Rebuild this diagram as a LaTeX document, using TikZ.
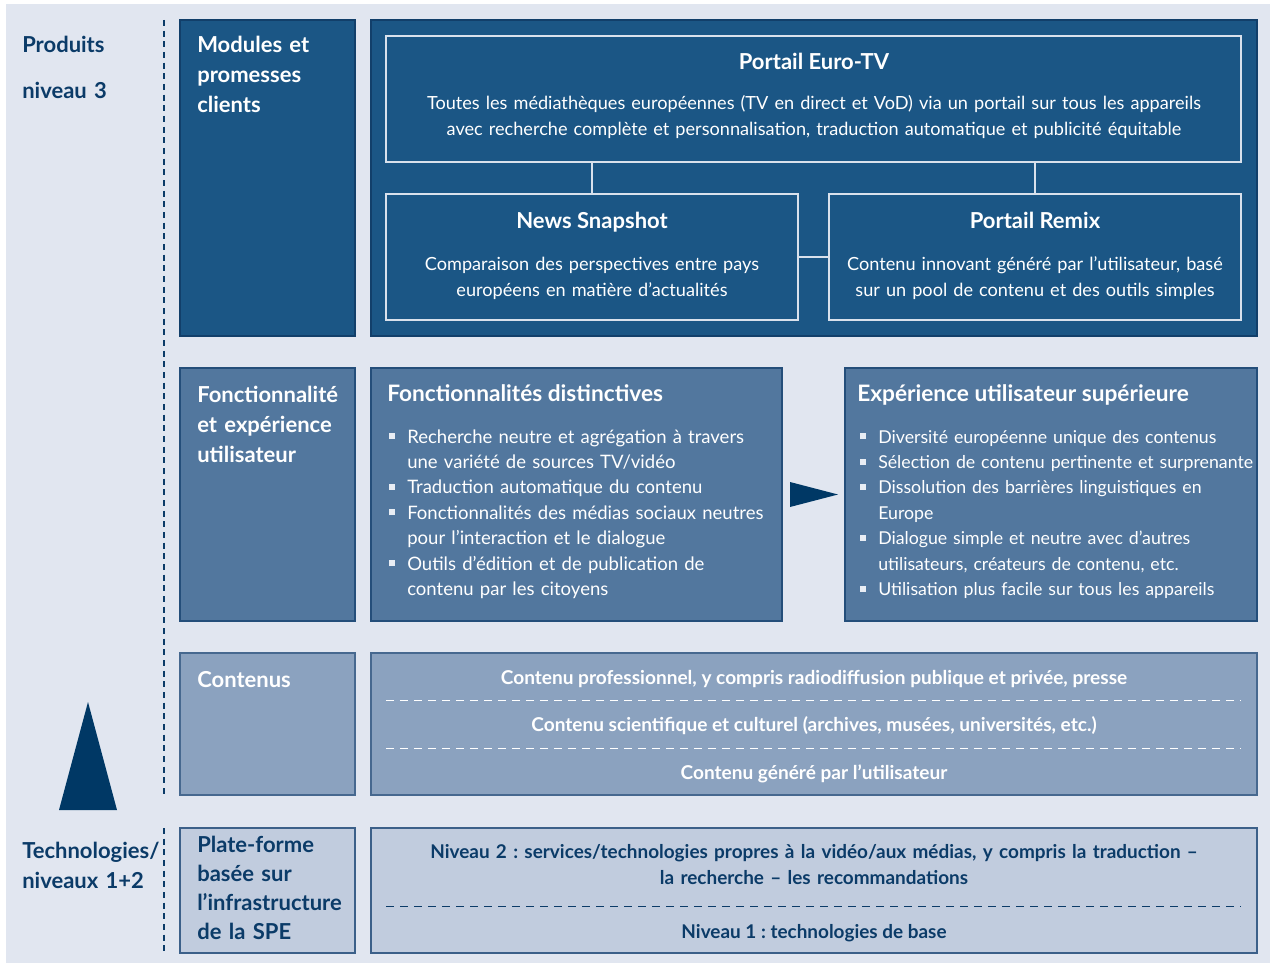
\documentclass[tikz,border=0pt]{standalone}
\usepackage{fontspec}
\setmainfont{Lato}
\usetikzlibrary{fit}
\frenchspacing
\definecolor{bgc}{HTML}{E1E6F0}
\definecolor{c1}{HTML}{1B5685}
\definecolor{c2}{HTML}{52779E}
\definecolor{c3}{HTML}{8BA2BF}
\definecolor{c4}{HTML}{C1CCDE}
\definecolor{navy}{HTML}{0B3B68}
\definecolor{tric}{HTML}{003865}
\definecolor{b1}{HTML}{123F6A}
\definecolor{b2}{HTML}{244E7A}
\definecolor{b3}{HTML}{46688F}
\definecolor{b4}{HTML}{3C6089}
\definecolor{inl}{HTML}{D9E1EC}
\definecolor{bulc}{HTML}{E8EDF4}
\newcommand{\bitem}[1]{\frenchspacing\hyphenpenalty=10000 \hangindent=13.5pt\hangafter=1\noindent\makebox[13.5pt][l]{\raisebox{0.22em}{\color{bulc}\rule{4.5pt}{4.5pt}}}#1\par}
\begin{document}
\begin{tikzpicture}[x=0.75pt,y=-0.75pt,
  boxA/.style={fill=c1,draw=b1,line width=0.9pt,inner sep=0pt},
  boxB/.style={fill=c2,draw=b2,line width=0.9pt,inner sep=0pt},
  boxC/.style={fill=c3,draw=b3,line width=0.9pt,inner sep=0pt},
  boxD/.style={fill=c4,draw=b4,line width=0.9pt,inner sep=0pt},
  inbox/.style={draw=inl,line width=0.8pt,inner sep=0pt},
  conn/.style={draw=inl,line width=0.8pt},
  sepw/.style={draw=white,line width=0.7pt,dash pattern=on 6pt off 4.5pt},
  sepn/.style={draw=navy,line width=0.7pt,dash pattern=on 6pt off 4.5pt},
  lbl/.style={inner sep=0pt,text=navy,font=\fontsize{16.5}{22.5}\selectfont\bfseries,align=left,anchor=base west},
  head/.style={inner sep=0pt,text=white,font=\fontsize{16.5}{22.5}\selectfont\bfseries,align=left,anchor=base west},
  ttl/.style={inner sep=0pt,text=white,font=\fontsize{16.5}{20}\selectfont\bfseries,anchor=base},
  desc/.style={inner sep=0pt,text=white,font=\fontsize{13.6}{19.5}\selectfont,align=center,anchor=base},
  sub/.style={inner sep=0pt,text=white,font=\fontsize{17}{20}\selectfont\bfseries,anchor=base west},
  blist/.style={inner sep=0pt,text=white,font=\fontsize{13.9}{19.1}\selectfont,align=left,anchor=base west,text width=315pt},
  cline/.style={inner sep=0pt,text=white,font=\fontsize{14.3}{19.5}\selectfont\bfseries,anchor=base},
  nline/.style={inner sep=0pt,text=navy,font=\fontsize{14.2}{19.5}\selectfont\bfseries,align=center,anchor=base}
]
\useasboundingbox (0,0) rectangle (1270,963);
\fill[white] (0,0) rectangle (1270,963);
\fill[bgc] (6,4) rectangle (1270,963);

% dashed divider
\draw[navy,line width=0.8pt,dash pattern=on 4.5pt off 3.5pt] (164,20) -- (164,795);
\draw[navy,line width=0.8pt,dash pattern=on 4.5pt off 3.5pt] (164,828) -- (164,953);

% left labels
\node[lbl,text width=100pt] (prod) at (22,53) {Produits\\[11.5pt]niveau 3};
\node[lbl,text width=120pt] (tech) at (22,858) {Technologies/\\niveaux 1+2};
\fill[tric] (88,702) -- (117,810) -- (59,810) -- cycle;

% row 1
\node[boxA,fit={(180,20)(355,336)}] (mod) {};
\node[head,text width=120pt] (modt) at (197,53) {Modules et\\promesses\\clients};
\node[boxA,fit={(371,20)(1257,336)}] (prodbox) {};
\node[inbox,fit={(386,36)(1241,162)}] (euro) {};
\node[inbox,fit={(386,194)(798,320)}] (news) {};
\node[inbox,fit={(829,194)(1241,320)}] (remix) {};
\draw[conn] (news.north) -- (news.north |- euro.south);
\draw[conn] (remix.north) -- (remix.north |- euro.south);
\draw[conn] (news.east) -- (remix.west);
\node[ttl] (eurot) at (814,70) {Portail Euro-TV};
\node[desc,text width=640pt] (eurod) at (814,110) {Toutes les médiathèques européennes (TV en direct et VoD) via un portail sur tous les appareils\\avec recherche complète et personnalisation, traduction automatique et publicité équitable};
\node[ttl] (newst) at (592,228) {News Snapshot};
\node[desc,text width=300pt] (newsd) at (592,270) {Comparaison des perspectives entre pays\\européens en matière d’actualités};
\node[ttl] (remixt) at (1035,228) {Portail Remix};
\node[desc,text width=300pt] (remixd) at (1035,270) {Contenu innovant généré par l’utilisateur, basé\\sur un pool de contenu et des outils simples};

% row 2
\node[boxB,fit={(180,368)(355,621)}] (fonc) {};
\node[head,text width=125pt] (fonct) at (197,402) {Fonctionnalité\\et expérience\\utilisateur};
\node[boxB,fit={(371,368)(782,621)}] (dist) {};
\node[sub] (distt) at (387,401) {Fonctionnalités distinctives};
\node[blist] (distl) at (389,443) {\bitem{Recherche neutre et agrégation à travers\newline une variété de sources TV/vidéo}\bitem{Traduction automatique du contenu}\bitem{Fonctionnalités des médias sociaux neutres\newline pour l’interaction et le dialogue}\bitem{Outils d’édition et de publication de\newline contenu par les citoyens}};
\fill[tric] (790,482) -- (838,494.5) -- (790,507) -- cycle;
\node[boxB,fit={(845,368)(1257,621)}] (exp) {};
\node[sub] (expt) at (857,401) {Expérience utilisateur supérieure};
\node[blist,font=\fontsize{13.3}{19.1}\selectfont] (expl) at (860,443) {\bitem{Diversité européenne unique des contenus}\bitem{Sélection de contenu pertinente et surprenante}\bitem{Dissolution des barrières linguistiques en\newline Europe}\bitem{Dialogue simple et neutre avec d’autres\newline utilisateurs, créateurs de contenu, etc.}\bitem{Utilisation plus facile sur tous les appareils}};

% row 3
\node[boxC,fit={(180,653)(355,795)}] (cont) {};
\node[head] (contt) at (197,687) {Contenus};
\node[boxC,fit={(371,653)(1257,795)}] (contbox) {};
\coordinate (s1a) at (386,700); \coordinate (s1b) at (1241,700);
\coordinate (s2a) at (386,748); \coordinate (s2b) at (1241,748);
\draw[sepw] (s1a) -- (s1b);
\draw[sepw] (s2a) -- (s2b);
\node[cline] (cl1) at (814,684) {Contenu professionnel, y compris radiodiffusion publique et privée, presse};
\node[cline] (cl2) at (814,731) {Contenu scientifique et culturel (archives, musées, universités, etc.)};
\node[cline] (cl3) at (814,779) {Contenu généré par l’utilisateur};

% row 4
\node[boxD,fit={(180,828)(355,953)}] (plat) {};
\node[lbl,text width=125pt,font=\fontsize{16.5}{21.8}\selectfont\bfseries] (platt) at (197,852) {Plate-forme\\basée sur\\l’infrastructure\\de la SPE};
\node[boxD,fit={(371,828)(1257,953)}] (techbox) {};
\coordinate (s3a) at (386,906); \coordinate (s3b) at (1241,906);
\draw[sepn] (s3a) -- (s3b);
\node[nline,text width=680pt] (n2) at (814,858) {Niveau 2 : services/technologies propres à la vidéo/aux médias, y compris la traduction –\\la recherche – les recommandations};
\node[nline] (n1) at (814,938) {Niveau 1 : technologies de base};
\end{tikzpicture}
\end{document}
